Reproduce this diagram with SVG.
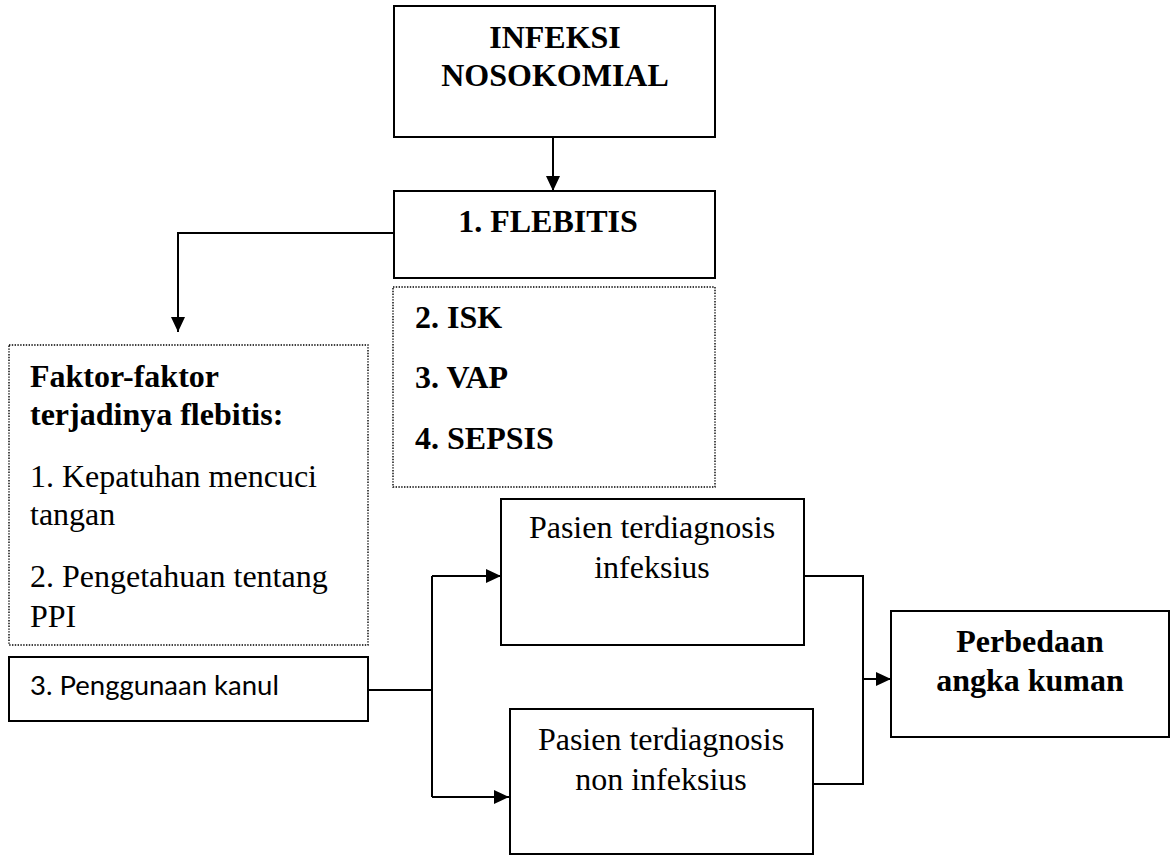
<svg xmlns="http://www.w3.org/2000/svg" width="1172" height="856" viewBox="0 0 1172 856">
<style>
.box{fill:#fff;stroke:#000;stroke-width:2}
.dot{fill:#fff;stroke:#000;stroke-width:1.4;stroke-dasharray:1.4 1.4}
.b{font-family:"Liberation Serif","Times New Roman",serif;font-weight:bold;font-size:32px;fill:#000}
.r{font-family:"Liberation Serif","Times New Roman",serif;font-size:32px;fill:#000}
.c{font-family:Lato,"Open Sans",sans-serif;font-size:27.5px;fill:#000}
.ln{fill:none;stroke:#000;stroke-width:2}
</style>
<defs>
<marker id="ah" markerUnits="userSpaceOnUse" markerWidth="16" markerHeight="14" refX="15" refY="7" orient="auto">
<path d="M0,0 L15,7 L0,14 z" fill="#000"/>
</marker>
</defs>
<rect width="1172" height="856" fill="#fff"/>
<g id="connectors">
<path class="ln" d="M553,137 V191" marker-end="url(#ah)"/>
<path class="ln" d="M394,233 H178 V332" marker-end="url(#ah)"/>
<path class="ln" d="M368,690 H432"/>
<path class="ln" d="M432,576 V797"/>
<path class="ln" d="M432,576 H501" marker-end="url(#ah)"/>
<path class="ln" d="M432,797 H509" marker-end="url(#ah)"/>
<path class="ln" d="M804,576 H863 V784 H813"/>
<path class="ln" d="M863,679 H891" marker-end="url(#ah)"/>
</g>
<g id="infeksi">
<rect class="box" x="394" y="6" width="321" height="131"/>
<text class="b" x="555" y="48" text-anchor="middle">INFEKSI</text>
<text class="b" x="555" y="86" text-anchor="middle">NOSOKOMIAL</text>
</g>
<g id="flebitis">
<rect class="box" x="394" y="191" width="321" height="87"/>
<text class="b" x="548" y="232" text-anchor="middle">1. FLEBITIS</text>
</g>
<g id="lainnya">
<rect class="dot" x="393" y="287" width="322" height="200"/>
<text class="b" x="415" y="328">2. ISK</text>
<text class="b" x="415" y="388">3. VAP</text>
<text class="b" x="415" y="449">4. SEPSIS</text>
</g>
<g id="faktor">
<rect class="dot" x="9" y="345" width="359" height="300"/>
<text class="b" x="30" y="387">Faktor-faktor</text>
<text class="b" x="30" y="425">terjadinya flebitis:</text>
<text class="r" x="30" y="487">1. Kepatuhan mencuci</text>
<text class="r" x="30" y="525">tangan</text>
<text class="r" x="30" y="587">2. Pengetahuan tentang</text>
<text class="r" x="30" y="627">PPI</text>
</g>
<g id="kanul">
<rect class="box" x="9" y="657" width="359" height="64"/>
<text class="c" x="30" y="695">3. Penggunaan kanul</text>
</g>
<g id="infeksius">
<rect class="box" x="501" y="499" width="303" height="146"/>
<text class="r" x="652" y="538" text-anchor="middle">Pasien terdiagnosis</text>
<text class="r" x="652" y="578" text-anchor="middle">infeksius</text>
</g>
<g id="noninfeksius">
<rect class="box" x="510" y="709" width="303" height="145"/>
<text class="r" x="661" y="750" text-anchor="middle">Pasien terdiagnosis</text>
<text class="r" x="661" y="790" text-anchor="middle">non infeksius</text>
</g>
<g id="perbedaan">
<rect class="box" x="891" y="611" width="278" height="126"/>
<text class="b" x="1030" y="652" text-anchor="middle">Perbedaan</text>
<text class="b" x="1030" y="691" text-anchor="middle">angka kuman</text>
</g>
</svg>
